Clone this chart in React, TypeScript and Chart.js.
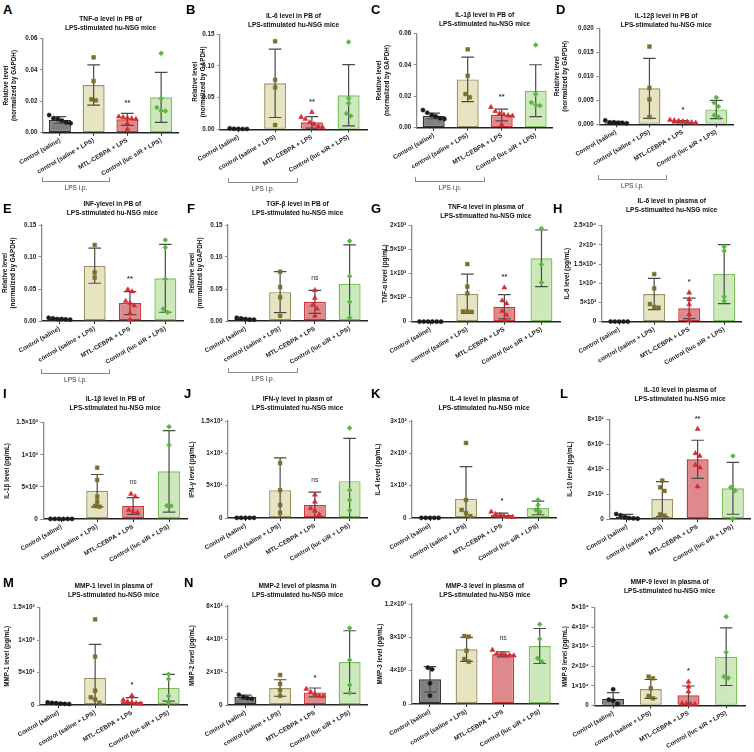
import React, { useEffect, useRef } from 'react';
import { Chart, registerables } from 'chart.js';
Chart.register(...registerables);

const FONT = '"Liberation Sans", Arial, Helvetica, sans-serif';
Chart.defaults.font.family = FONT;

// ---------- shared categories / labels ----------
const GROUPS = ['Control (saline)', 'control (saline + LPS)', 'MTL-CEBPA + LPS', 'Control (luc siR + LPS)'];
const REL_TITLE = ['Relative level', '(normalized by GAPDH)'];
const SUB_PB = 'LPS-stimulated hu-NSG mice';
const SUB_TYPO = 'LPS-stimualted hu-NSG mice';

// ---------- A ----------
const A_TITLE = ['TNF-α level in PB of', SUB_PB];
const A_TICKS = [0, 0.02, 0.04, 0.06];
const A_TICK_LABELS = ['0.00', '0.02', '0.04', '0.06'];
const A_MEAN = [0.0081, 0.0303, 0.0085, 0.0225];
const A_SD = [0.0021, 0.0128, 0.0038, 0.0159];
const A_PTS = [
  [0.0112, 0.0092, 0.0086, 0.0077, 0.0065, 0.006],
  [0.0479, 0.0328, 0.0212, 0.0206],
  [0.0102, 0.0098, 0.0094, 0.009, 0.0086, 0.0058, 0.0022],
  [0.0505, 0.0218, 0.016, 0.014, 0.0138],
];
const A_SIG = '**';

// ---------- B ----------
const B_TITLE = ['IL-6 level in PB of', SUB_PB];
const B_TICKS = [0, 0.05, 0.1, 0.15];
const B_TICK_LABELS = ['0.00', '0.05', '0.10', '0.15'];
const B_MEAN = [0.0008, 0.0726, 0.011, 0.0537];
const B_SD = [0.0004, 0.054, 0.009, 0.0484];
const B_PTS = [
  [0.0015, 0.0008, 0.0006, 0.0005, 0.0005],
  [0.139, 0.078, 0.066, 0.0068],
  [0.027, 0.019, 0.016, 0.011, 0.008, 0.004, 0.003],
  [0.138, 0.049, 0.041, 0.025, 0.021],
];
const B_SIG = '**';

// ---------- C ----------
const C_TITLE = ['IL-1β level in PB of', SUB_PB];
const C_TICKS = [0, 0.02, 0.04, 0.06];
const C_TICK_LABELS = ['0.00', '0.02', '0.04', '0.06'];
const C_MEAN = [0.0075, 0.0307, 0.0081, 0.0235];
const C_SD = [0.0018, 0.0141, 0.0037, 0.0165];
const C_PTS = [
  [0.0112, 0.0095, 0.008, 0.0072, 0.006, 0.0056],
  [0.0498, 0.033, 0.0214, 0.0193],
  [0.013, 0.0105, 0.009, 0.0083, 0.0078, 0.0075, 0.002],
  [0.0526, 0.0214, 0.016, 0.0145, 0.014],
];
const C_SIG = '**';

// ---------- D ----------
const D_TITLE = ['IL-12β level in PB  of', SUB_PB];
const D_TICKS = [0, 0.005, 0.01, 0.015, 0.02];
const D_TICK_LABELS = ['0.000', '0.005', '0.010', '0.015', '0.020'];
const D_MEAN = [0.0004, 0.0075, 0.00056, 0.0031];
const D_SD = [0.0002, 0.00625, 0.0002, 0.0019];
const D_PTS = [
  [0.0008, 0.0004, 0.0004, 0.0003, 0.0003, 0.0002],
  [0.0162, 0.0076, 0.0052, 0.0015],
  [0.0009, 0.0008, 0.0007, 0.0006, 0.0005, 0.0004, 0.0003],
  [0.0056, 0.0045, 0.0037, 0.0019, 0.0015],
];
const D_SIG = '*';

// ---------- E ----------
const E_TITLE = ['INF-γlevel in PB of', SUB_PB];
const E_TICKS = [0, 0.05, 0.1, 0.15];
const E_TICK_LABELS = ['0.00', '0.05', '0.10', '0.15'];
const E_MEAN = [0.003, 0.0865, 0.028, 0.0667];
const E_SD = [0.001, 0.0275, 0.018, 0.053];
const E_PTS = [
  [0.005, 0.004, 0.003, 0.003, 0.0025, 0.002],
  [0.1188, 0.076, 0.0677],
  [0.049, 0.046, 0.031, 0.028, 0.024, 0.012, 0.002],
  [0.1266, 0.115, 0.0656, 0.0188, 0.0135],
];
const E_SIG = '**';

// ---------- F ----------
const F_TITLE = ['TGF-β level in PB of', SUB_PB];
const F_TICKS = [0, 0.05, 0.1, 0.15];
const F_TICK_LABELS = ['0.00', '0.05', '0.10', '0.15'];
const F_MEAN = [0.003, 0.045, 0.03, 0.058];
const F_SD = [0.001, 0.032, 0.018, 0.061];
const F_PTS = [
  [0.005, 0.004, 0.003, 0.002, 0.002],
  [0.077, 0.053, 0.037, 0.008],
  [0.048, 0.036, 0.025, 0.019, 0.008],
  [0.125, 0.07, 0.03, 0.005],
];
const F_SIG = 'ns';

// ---------- G ----------
const G_TITLE = ['TNF-α level in plasma of', SUB_TYPO];
const G_TICKS = [0, 500, 1000, 1500, 2000];
const G_TICK_LABELS = ['0', '5×10²', '1×10³', '1.5×10³', '2×10³'];
const G_MEAN = [2, 583, 312, 1320];
const G_SD = [1, 410, 252, 590];
const G_PTS = [
  [3, 2, 2, 2, 1, 1],
  [1200, 730, 590, 215, 210, 205],
  [710, 440, 380, 220, 140, 40],
  [1944, 1194, 819],
];
const G_SIG = '**';

// ---------- H ----------
const H_TITLE = ['IL-6 level in plasma of', SUB_TYPO];
const H_TICKS = [0, 5000, 10000, 15000, 20000, 25000];
const H_TICK_LABELS = ['0', '5×10³', '1×10⁴', '1.5×10⁴', '2×10⁴', '2.5×10⁴'];
const H_MEAN = [30, 7205, 3472, 12413];
const H_SD = [10, 4080, 2690, 7680];
const H_PTS = [
  [50, 40, 30, 30, 20],
  [12400, 8680, 4600, 3820, 3650],
  [7550, 5800, 4500, 1900, 450],
  [19530, 18400, 6510, 5380],
];
const H_SIG = '*';

// ---------- I ----------
const I_TITLE = ['IL-1β level in PB of', SUB_PB];
const I_TICKS = [0, 500, 1000, 1500];
const I_TICK_LABELS = ['0', '5×10²', '1×10³', '1.5×10³'];
const I_MEAN = [1, 441, 202, 742];
const I_SD = [0.5, 252, 130, 634];
const I_PTS = [
  [1, 1, 1, 1, 1, 1],
  [799, 607, 348, 270, 202, 192],
  [390, 350, 140, 115, 100],
  [1438, 1152, 208, 202],
];
const I_SIG = 'ns';

// ---------- J ----------
const J_TITLE = ['IFN-γ level in plasm of', SUB_PB];
const J_TICKS = [0, 50, 100, 150];
const J_TICK_LABELS = ['0', '5×10¹', '1×10²', '1.5×10²'];
const J_MEAN = [0.3, 43, 20, 57];
const J_SD = [0.1, 50, 20, 66];
const J_PTS = [
  [0.3, 0.3, 0.3, 0.3, 0.3],
  [85, 43, 20, 8],
  [36, 25, 15, 11, 5],
  [139, 43, 28, 12],
];
const J_SIG = 'ns';

// ---------- K ----------
const K_TITLE = ['IL-4 level in plasma of', SUB_PB];
const K_TICKS = [0, 100, 200, 300];
const K_TICK_LABELS = ['0', '1×10²', '2×10²', '3×10²'];
const K_MEAN = [0.5, 59, 9, 31];
const K_SD = [0.2, 100, 6, 21];
const K_PTS = [
  [0.5, 0.5, 0.5, 0.5, 0.5],
  [232, 56, 25, 15, 6],
  [19, 12, 9, 6, 4, 3],
  [56, 40, 25, 19],
];
const K_SIG = '*';

// ---------- L ----------
const L_TITLE = ['IL-10 level in plasma of', SUB_PB];
const L_TICKS = [0, 20, 40, 60, 80];
const L_TICK_LABELS = ['0', '2×10¹', '4×10¹', '6×10¹', '8×10¹'];
const L_MEAN = [1.9, 16, 47.9, 24.6];
const L_SD = [1.8, 14, 15.3, 20.8];
const L_PTS = [
  [4.0, 3.0, 1.5, 0.8, 0.5, 0.3],
  [30.8, 25.4, 22.5, 3.7, 2.7],
  [72.2, 52.7, 50.6, 43.3, 41.2, 26.0],
  [50.6, 25.4, 22.7, 0.2],
];
const L_SIG = '**';

// ---------- M ----------
const M_TITLE = ['MMP-1 level in plasma of', SUB_PB];
const M_TICKS = [0, 500, 1000, 1500];
const M_TICK_LABELS = ['0', '5×10²', '1×10³', '1.5×10³'];
const M_MEAN = [26, 421, 51, 267];
const M_SD = [10, 514, 62, 206];
const M_PTS = [
  [40, 32, 28, 22, 18, 15],
  [1320, 745, 221, 118, 87, 36],
  [144, 77, 51, 36, 26, 20],
  [473, 401, 139, 36],
];
const M_SIG = '*';

// ---------- N ----------
const N_TITLE = ['MMP-2 level of plasma in', SUB_PB];
const N_TICKS = [0, 2000, 4000, 6000];
const N_TICK_LABELS = ['0', '2×10³', '4×10³', '6×10³'];
const N_MEAN = [480, 1030, 760, 2600];
const N_SD = [120, 500, 270, 1900];
const N_PTS = [
  [620, 480, 420, 380],
  [1820, 1270, 900, 550],
  [970, 790, 670, 550, 520],
  [4670, 2730, 1210, 730],
];
const N_SIG = '*';

// ---------- O ----------
const O_TITLE = ['MMP-3 level in plasma of', SUB_PB];
const O_TICKS = [0, 400, 800, 1200];
const O_TICK_LABELS = ['0', '4×10²', '8×10²', '1.2×10³'];
const O_MEAN = [296, 656, 596, 696];
const O_SD = [152, 144, 30, 210];
const O_PTS = [
  [436, 416, 248, 100],
  [816, 808, 640, 540, 508],
  [648, 604, 596, 588, 584, 580],
  [956, 780, 548, 508],
];
const O_SIG = 'ns';

// ---------- P ----------
const P_TITLE = ['MMP-9 level in plasma of', SUB_PB];
const P_TICKS = [0, 10000, 20000, 30000, 40000, 50000];
const P_TICK_LABELS = ['0', '1×10⁴', '2×10⁴', '3×10⁴', '4×10⁴', '5×10⁴'];
const P_MEAN = [3242, 8362, 5120, 24915];
const P_SD = [3243, 4864, 4778, 14760];
const P_PTS = [
  [8191, 2900, 2400, 700],
  [14676, 13823, 8703, 4778, 3584],
  [12000, 9500, 7000, 1000, 900, 700, 600],
  [45392, 27133, 14676, 13994],
];
const P_SIG = '*';

// ---------- panel table ----------
const PANELS: any[] = [
  { key: 'A', title: A_TITLE, yTitle: REL_TITLE, ticks: A_TICKS, labels: A_TICK_LABELS, means: A_MEAN, sds: A_SD, pts: A_PTS, sig: A_SIG },
  { key: 'B', title: B_TITLE, yTitle: REL_TITLE, ticks: B_TICKS, labels: B_TICK_LABELS, means: B_MEAN, sds: B_SD, pts: B_PTS, sig: B_SIG },
  { key: 'C', title: C_TITLE, yTitle: REL_TITLE, ticks: C_TICKS, labels: C_TICK_LABELS, means: C_MEAN, sds: C_SD, pts: C_PTS, sig: C_SIG },
  { key: 'D', title: D_TITLE, yTitle: REL_TITLE, ticks: D_TICKS, labels: D_TICK_LABELS, means: D_MEAN, sds: D_SD, pts: D_PTS, sig: D_SIG },
  { key: 'E', title: E_TITLE, yTitle: REL_TITLE, ticks: E_TICKS, labels: E_TICK_LABELS, means: E_MEAN, sds: E_SD, pts: E_PTS, sig: E_SIG },
  { key: 'F', title: F_TITLE, yTitle: REL_TITLE, ticks: F_TICKS, labels: F_TICK_LABELS, means: F_MEAN, sds: F_SD, pts: F_PTS, sig: F_SIG },
  { key: 'G', title: G_TITLE, yTitle: 'TNF-α level (pg/mL)', ticks: G_TICKS, labels: G_TICK_LABELS, means: G_MEAN, sds: G_SD, pts: G_PTS, sig: G_SIG },
  { key: 'H', title: H_TITLE, yTitle: 'IL-6 level (pg/mL)', ticks: H_TICKS, labels: H_TICK_LABELS, means: H_MEAN, sds: H_SD, pts: H_PTS, sig: H_SIG },
  { key: 'I', title: I_TITLE, yTitle: 'IL-1β level (pg/mL)', ticks: I_TICKS, labels: I_TICK_LABELS, means: I_MEAN, sds: I_SD, pts: I_PTS, sig: I_SIG },
  { key: 'J', title: J_TITLE, yTitle: 'IFN-γ level (pg/mL)', ticks: J_TICKS, labels: J_TICK_LABELS, means: J_MEAN, sds: J_SD, pts: J_PTS, sig: J_SIG },
  { key: 'K', title: K_TITLE, yTitle: 'IL-4 level (pg/mL)', ticks: K_TICKS, labels: K_TICK_LABELS, means: K_MEAN, sds: K_SD, pts: K_PTS, sig: K_SIG },
  { key: 'L', title: L_TITLE, yTitle: 'IL-10 level (pg/mL)', ticks: L_TICKS, labels: L_TICK_LABELS, means: L_MEAN, sds: L_SD, pts: L_PTS, sig: L_SIG },
  { key: 'M', title: M_TITLE, yTitle: 'MMP-1 level (pg/mL)', ticks: M_TICKS, labels: M_TICK_LABELS, means: M_MEAN, sds: M_SD, pts: M_PTS, sig: M_SIG },
  { key: 'N', title: N_TITLE, yTitle: 'MMP-2 level (pg/mL)', ticks: N_TICKS, labels: N_TICK_LABELS, means: N_MEAN, sds: N_SD, pts: N_PTS, sig: N_SIG },
  { key: 'O', title: O_TITLE, yTitle: 'MMP-3 level (pg/mL)', ticks: O_TICKS, labels: O_TICK_LABELS, means: O_MEAN, sds: O_SD, pts: O_PTS, sig: O_SIG },
  { key: 'P', title: P_TITLE, yTitle: 'MMP-9 level (pg/mL)', ticks: P_TICKS, labels: P_TICK_LABELS, means: P_MEAN, sds: P_SD, pts: P_PTS, sig: P_SIG },
];

// ---------- layout (page pixels) ----------
const LAYOUT: any = {
  A: { lx: 3, ly: 3.3, ty: 18.3, pl: 43, pr: 178, pt: 38.3, pb: 132.7, yx: 6, br: [42, 110, 182] },
  B: { lx: 186, ly: 3.3, ty: 15, pl: 220, pr: 367, pt: 34.3, pb: 129.3, yx: 195, br: [228, 298, 182.7] },
  C: { lx: 371, ly: 3.3, ty: 14.3, pl: 416.7, pr: 552.7, pt: 33.3, pb: 127.7, yx: 379, br: [415, 485, 181.7] },
  D: { lx: 556, ly: 3.3, ty: 15, pl: 599.3, pr: 733, pt: 28.3, pb: 124.3, yx: 557, br: [598, 667, 180] },
  E: { lx: 3, ly: 201.5, ty: 203.3, pl: 41.7, pr: 183, pt: 225, pb: 321, yx: 5, br: [41, 110, 374] },
  F: { lx: 187, ly: 201.5, ty: 203.3, pl: 228, pr: 367, pt: 225, pb: 321, yx: 192, br: [228, 298, 373] },
  G: { lx: 371, ly: 201.5, ty: 206.7, pl: 411.7, pr: 560, pt: 225.7, pb: 321.7, yx: 385 },
  H: { lx: 553, ly: 201.5, ty: 200.7, pl: 601.7, pr: 741.7, pt: 225.7, pb: 321.7, yx: 567 },
  I: { lx: 3, ly: 386.5, ty: 398.3, pl: 43.3, pr: 187, pt: 422.7, pb: 519, yx: 7 },
  J: { lx: 184, ly: 386.5, ty: 398, pl: 228, pr: 367, pt: 421, pb: 518, yx: 192 },
  K: { lx: 371, ly: 386.5, ty: 398, pl: 412, pr: 556, pt: 421, pb: 518, yx: 378 },
  L: { lx: 560, ly: 386.5, ty: 389, pl: 609.3, pr: 751, pt: 419.3, pb: 519, yx: 570 },
  M: { lx: 3, ly: 575.5, ty: 585, pl: 40, pr: 187, pt: 607.7, pb: 705, yx: 7 },
  N: { lx: 184, ly: 575.5, ty: 585, pl: 228, pr: 367, pt: 606, pb: 705, yx: 192 },
  O: { lx: 371, ly: 575.5, ty: 585, pl: 411.7, pr: 558, pt: 604, pb: 704, yx: 380 },
  P: { lx: 559, ly: 575.5, ty: 581.7, pl: 594.3, pr: 745, pt: 607.7, pb: 705.3, yx: 565 },
};

// ---------- styles ----------
const FILLS = ['#808080', '#e6e4c1', '#de8a8d', '#cde8bb'];
const BORDERS = ['#333333', '#9a9466', '#c9363c', '#7cc05c'];
const PT_COLORS = ['#1a1a1a', '#7b6f2c', '#d42a31', '#5cb541'];
const PT_STYLES = ['circle', 'rect', 'triangle', 'rectRot'];
const PT_RADII = [2.1, 2.7, 2.9, 2.5];
const TICK_FONT = { family: FONT, size: 6.3, weight: 'bold' as const };
const YT_FONT = { family: FONT, size: 6.3, weight: 'bold' as const, lineHeight: 1.25 };

function swarmOffsets(vals: number[], thr: number, step: number): number[] {
  const idx = vals.map((_, i) => i).sort((a, b) => vals[b] - vals[a]);
  const off = vals.map(() => 0);
  let cluster: number[] = [];
  const flush = () => {
    const n = cluster.length;
    cluster.forEach((k, j) => { off[k] = (j - (n - 1) / 2) * step; });
    cluster = [];
  };
  idx.forEach((k) => {
    if (cluster.length && Math.abs(vals[cluster[cluster.length - 1]] - vals[k]) > thr) flush();
    cluster.push(k);
  });
  flush();
  return off;
}

function Panel({ spec, lay }: { spec: any; lay: any }) {
  const ref = useRef<HTMLCanvasElement>(null);
  const cl = Math.floor(lay.yx - 4);
  const ct = Math.floor(lay.pt - 8);
  const cr = Math.ceil(Math.min(754, lay.pr + 6));
  const cb = Math.ceil(Math.min(752, lay.pb + 56));
  const w = cr - cl;
  const h = cb - ct;

  useEffect(() => {
    const ymax = spec.ticks[spec.ticks.length - 1];
    const plotH = lay.pb - lay.pt;
    const catW = (lay.pr - lay.pl) / 4;
    const thr = (ymax * 4.3) / plotH;
    const step = 4.3 / catW;

    const datasets: any[] = spec.pts.map((g: number[], gi: number) => {
      const off = swarmOffsets(g, thr, step);
      return {
        type: 'scatter',
        xAxisID: 'xs',
        yAxisID: 'y',
        order: 0,
        clip: false,
        data: g.map((v, j) => ({ x: gi + off[j], y: v })),
        pointStyle: PT_STYLES[gi],
        pointRadius: PT_RADII[gi],
        pointHoverRadius: PT_RADII[gi],
        backgroundColor: PT_COLORS[gi],
        borderColor: PT_COLORS[gi],
        borderWidth: 0.5,
      };
    });
    datasets.push({
      type: 'bar',
      xAxisID: 'x',
      yAxisID: 'y',
      order: 1,
      grouped: false,
      data: spec.means,
      backgroundColor: FILLS,
      borderColor: BORDERS,
      borderWidth: 1.4,
      borderSkipped: false,
      categoryPercentage: 1,
      barPercentage: 22 / catW,
    });

    const CAP = 6.3;
    const overlay = {
      id: 'errSig',
      afterDatasetDraw(chart: any, args: any) {
        if (args.meta.type !== 'bar') return;
        const { ctx } = chart;
        const xs = chart.scales.x;
        const ys = chart.scales.y;
        ctx.save();
        ctx.strokeStyle = '#4a4a4a';
        ctx.lineWidth = 1.2;
        spec.means.forEach((m: number, i: number) => {
          const px = xs.getPixelForValue(i);
          const hi = ys.getPixelForValue(m + spec.sds[i]);
          const loV = m - spec.sds[i];
          const lo = ys.getPixelForValue(Math.max(0, loV));
          ctx.beginPath();
          ctx.moveTo(px, hi);
          ctx.lineTo(px, lo);
          ctx.moveTo(px - CAP, hi);
          ctx.lineTo(px + CAP, hi);
          if (loV > 0) {
            ctx.moveTo(px - CAP, lo);
            ctx.lineTo(px + CAP, lo);
          }
          ctx.stroke();
        });
        ctx.restore();
      },
      afterDatasetsDraw(chart: any) {
        const { ctx } = chart;
        const xs = chart.scales.x;
        const ys = chart.scales.y;
        const i = 2;
        const topV = Math.max(spec.means[i] + spec.sds[i], ...spec.pts[i]);
        const px = xs.getPixelForValue(i);
        const py = ys.getPixelForValue(topV) - 12;
        ctx.save();
        ctx.fillStyle = '#333';
        ctx.textAlign = 'center';
        ctx.textBaseline = 'middle';
        if (spec.sig === 'ns') {
          ctx.font = `7px ${FONT}`;
          ctx.fillText('ns', px, py);
        } else {
          ctx.font = `bold 7.5px ${FONT}`;
          ctx.fillText(spec.sig, px, py + 1.5);
        }
        ctx.restore();
      },
    };

    const chart = new Chart(ref.current as HTMLCanvasElement, {
      type: 'bar',
      data: { labels: GROUPS, datasets },
      options: {
        animation: false,
        responsive: false,
        maintainAspectRatio: false,
        events: [],
        layout: { padding: { left: 0, top: lay.pt - ct, right: cr - lay.pr, bottom: 0 } },
        plugins: { legend: { display: false }, tooltip: { enabled: false }, title: { display: false } },
        scales: {
          x: {
            type: 'category',
            offset: true,
            grid: { display: true, drawOnChartArea: false, drawTicks: true, tickLength: 3, color: '#222', offset: false, lineWidth: 1 },
            border: { display: true, color: '#222', width: 1.4 },
            ticks: { autoSkip: false, minRotation: 30, maxRotation: 30, color: '#222', font: TICK_FONT, padding: 1 },
            afterFit: (s: any) => {
              s.height = cb - lay.pb;
              s.paddingLeft = 0; s.paddingRight = 0; s.paddingTop = 0; s.paddingBottom = 0;
            },
          },
          xs: {
            type: 'linear',
            display: false,
            offset: false,
            min: -0.5,
            max: 3.5,
            ticks: { display: false },
            grid: { display: false, offset: false },
            afterFit: (s: any) => { s.height = 0; },
          },
          y: {
            type: 'linear',
            min: 0,
            max: ymax,
            grid: { display: true, drawOnChartArea: false, drawTicks: true, tickLength: 3, color: '#8a8a8a', lineWidth: 1 },
            border: { display: true, color: '#8a8a8a', width: 1.3 },
            ticks: {
              autoSkip: false,
              color: '#222',
              font: TICK_FONT,
              padding: 2.5,
              callback: (_v: any, idx: number) => spec.labels[idx],
            },
            afterBuildTicks: (s: any) => { s.ticks = spec.ticks.map((v: number) => ({ value: v })); },
            title: { display: true, text: spec.yTitle, color: '#111', font: YT_FONT, padding: { top: 0, bottom: 0 } },
            afterFit: (s: any) => {
              s.width = lay.pl - cl;
              s.paddingLeft = 0; s.paddingRight = 0; s.paddingTop = 0; s.paddingBottom = 0;
            },
          },
        },
      },
      plugins: [overlay],
    } as any);
    return () => chart.destroy();
  }, []);

  const cx = (lay.pl + lay.pr) / 2;
  return (
    <>
      <canvas ref={ref} width={w} height={h} style={{ position: 'absolute', left: cl, top: ct, width: w, height: h }} />
      <div style={{ position: 'absolute', left: lay.lx, top: lay.ly, font: `bold 13px/13px ${FONT}`, color: '#000' }}>{spec.key}</div>
      <div
        style={{
          position: 'absolute', left: cx - 90, width: 180, top: lay.ty - 4.5, textAlign: 'center',
          font: `bold 6.6px/9px ${FONT}`, color: '#111', whiteSpace: 'nowrap',
        }}
      >
        <div>{spec.title[0]}</div>
        <div>{spec.title[1]}</div>
      </div>
      {lay.br && (
        <>
          <div
            style={{
              position: 'absolute', left: lay.br[0], top: lay.br[2] - 5, width: lay.br[1] - lay.br[0], height: 5,
              borderLeft: '1px solid #8a8a8a', borderRight: '1px solid #8a8a8a', borderBottom: '1px solid #8a8a8a', boxSizing: 'border-box',
            }}
          />
          <div
            style={{
              position: 'absolute', left: (lay.br[0] + lay.br[1]) / 2 - 30, width: 60, top: lay.br[2] + 2, textAlign: 'center',
              font: `6.5px/8px ${FONT}`, color: '#333',
            }}
          >
            LPS i.p.
          </div>
        </>
      )}
    </>
  );
}

export default function App() {
  return (
    <div style={{ position: 'absolute', left: 0, top: 0, width: 754, height: 752, background: '#fff', overflow: 'hidden' }}>
      {PANELS.map((p) => (
        <Panel key={p.key} spec={p} lay={LAYOUT[p.key]} />
      ))}
    </div>
  );
}
